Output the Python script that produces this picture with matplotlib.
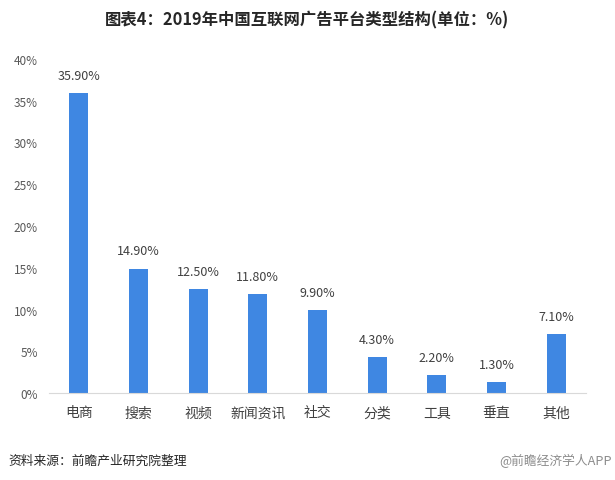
import matplotlib.pyplot as plt

plt.rcParams['font.family'] = ['Noto Sans CJK SC', 'DejaVu Sans']

# data
categories = ['电商', '搜索', '视频', '新闻资讯', '社交', '分类', '工具', '垂直', '其他']
values = [35.9, 14.9, 12.5, 11.8, 9.9, 4.3, 2.2, 1.3, 7.1]
yticks = [0, 5, 10, 15, 20, 25, 30, 35, 40]

fig = plt.figure(figsize=(6.15, 4.81), dpi=100)
ax = fig.add_axes([49 / 615, 1 - 394 / 481, (586 - 49) / 615, (394 - 60) / 481])

x = range(len(categories))
bars = ax.bar(x, values, width=0.32, color='#3F87E2')
for xi, v in zip(x, values):
    ax.annotate(f'{v:.2f}%', (xi, v), xytext=(0, 8), textcoords='offset points',
                ha='center', va='bottom', fontsize=9, color='#404040')

ax.set_xlim(-0.5, len(categories) - 0.5)
ax.set_ylim(0, 40)
ax.set_yticks(yticks)
ax.set_yticklabels([f'{t}%' for t in yticks], fontsize=8.5, color='#595959')
ax.set_xticks(list(x))
ax.set_xticklabels(categories, fontsize=10, color='#404040')
ax.tick_params(length=0)
ax.tick_params(axis='x', pad=9)
ax.tick_params(axis='y', pad=8)
for s in ['top', 'right', 'left']:
    ax.spines[s].set_visible(False)
ax.spines['bottom'].set_color('#D9D9D9')

fig.text(0.5, 1 - 20 / 481, '图表4：2019年中国互联网广告平台类型结构(单位：%)', ha='center', va='center',
         fontsize=11.8, fontweight='bold', color='#262626')
fig.text(8 / 615, 1 - 461 / 481, '资料来源：前瞻产业研究院整理', ha='left', va='center',
         fontsize=9.2, color='#262626')
fig.text(612 / 615, 1 - 461 / 481, '@前瞻经济学人APP', ha='right', va='center',
         fontsize=9.2, color='#8C8C8C')

fig.savefig('out.png', dpi=100)
